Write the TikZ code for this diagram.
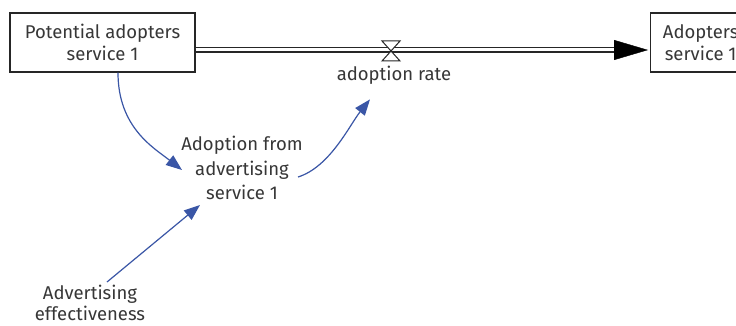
\documentclass[tikz,border=0pt]{standalone}
\usepackage{fontspec}
\setmainfont{Fira Sans}
\usetikzlibrary{arrows.meta,calc}
\definecolor{linkblue}{RGB}{58,86,166}
\definecolor{txt}{RGB}{55,55,55}
\begin{document}
\begin{tikzpicture}[x=1pt,y=-1pt,
  stock/.style={draw=black!85, line width=1.3pt, fill=white, text=txt,
    font=\fontsize{18.5}{22}\selectfont, align=center, inner sep=0pt},
  lbl/.style={text=txt, font=\fontsize{18.5}{22}\selectfont, align=center, inner sep=0pt},
  link/.style={draw=linkblue, line width=1.2pt, -{Triangle[length=16pt,width=12pt,fill=linkblue]}},
  pipe/.style={draw=black!85, line width=1.5pt, double=white, double distance=3pt},
  valvestyle/.style={draw=black!85, line width=1pt, fill=white},
]
\useasboundingbox (0,0) rectangle (736,326);
\fill[white] (0,0) rectangle (736,326);
% stocks
\node[stock, minimum width=185, minimum height=59] (pot) at (102.5,42.5) {Potential adopters\\service 1};
\node[stock, minimum width=100, minimum height=59, anchor=west] (adp) at (650,42.5) {Adopters\\service 1};
% flow pipe
\coordinate (pin) at ($(pot.east)+(0,7.5)$);
\coordinate (pout) at ($(adp.west)+(-33,7.5)$);
\coordinate (ptip) at ($(adp.west)+(-2,7.5)$);
\draw[pipe] (pin) -- (pout);
\draw[black, line width=0.4pt, -{Triangle[length=34pt,width=20pt]}] ($(pout)+(-2,0)$) -- (ptip);
% valve
\coordinate (valve) at (391,51);
\draw[valvestyle] ($(valve)+(-9,-10)$) -- ++(18,0) -- ($(valve)+(-9,10)$) -- ++(18,0) -- cycle;
\node[lbl] (rate) at (394,75) {adoption rate};
% auxiliaries
\node[lbl, font=\fontsize{18.5}{24.5}\selectfont] (afa) at (242,168) {Adoption from\\advertising\\service 1};
\node[lbl, font=\fontsize{18.5}{21}\selectfont] (adv) at (90,303) {Advertising\\effectiveness};
% links
\draw[link] ([xshift=15.5]pot.south) .. controls +(0,55) and +(-28,-22) .. ($(afa)+(-60,2)$);
\draw[link] ($(afa)+(56,9)$) .. controls +(32,-10) and +(-20,25) .. ($(rate.south)+(-24,15)$);
\draw[link] ($(adv)+(17,-21)$) -- ($(afa)+(-42,37)$);
\end{tikzpicture}
\end{document}
